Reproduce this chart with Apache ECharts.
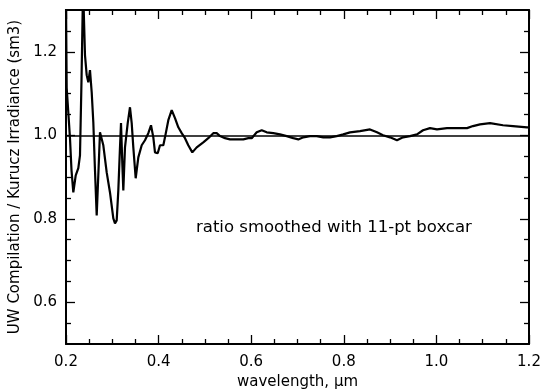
<!DOCTYPE html>
<html>
<head>
<meta charset="utf-8">
<script src="https://cdn.jsdelivr.net/npm/echarts@6/dist/echarts.min.js"></script>
<style>
html,body{margin:0;padding:0;background:#fff;}
#c{width:544px;height:389px;}
</style>
</head>
<body>
<div id="c"></div>
<script>
// wavelength (µm)
var wavelength = [0.200,0.2015,0.2054,0.2086,0.2119,0.2158,0.2210,0.2266,0.2302,0.2335,0.2361,0.2375,0.2410,0.2447,0.2482,0.2518,0.2555,0.2590,0.2626,0.2663,0.2702,0.2734,0.2767,0.2806,0.2879,0.2950,0.3022,0.3058,0.3095,0.3130,0.3166,0.3188,0.3216,0.3238,0.3274,0.3333,0.3382,0.3419,0.3454,0.3505,0.3562,0.3635,0.3706,0.3778,0.3836,0.3886,0.3922,0.3981,0.4030,0.4102,0.4138,0.4210,0.4283,0.4354,0.4426,0.4499,0.4570,0.4641,0.4728,0.4823,0.4965,0.5073,0.5181,0.5255,0.5326,0.5434,0.5542,0.5687,0.5829,0.5937,0.6011,0.6119,0.6227,0.6335,0.6477,0.6622,0.6767,0.6909,0.7017,0.7125,0.7270,0.7415,0.7557,0.7702,0.7847,0.7989,0.8134,0.8350,0.8566,0.8717,0.8847,0.8998,0.9149,0.9279,0.9430,0.9581,0.9711,0.9862,1.0013,1.0229,1.0445,1.0661,1.0790,1.0942,1.1158,1.1438,1.1654,1.1957,1.2000];
// ratio UW compilation / Kurucz
var ratio = [1.32,1.113,1.048,0.993,0.916,0.863,0.904,0.921,0.952,1.132,1.305,1.33,1.192,1.144,1.127,1.156,1.103,1.031,0.916,0.808,0.916,1.007,1.005,0.976,0.911,0.863,0.801,0.789,0.796,0.868,0.971,1.029,0.933,0.868,0.971,1.029,1.067,1.029,0.971,0.897,0.947,0.976,0.988,1.005,1.024,0.995,0.959,0.957,0.976,0.976,0.995,1.036,1.060,1.041,1.019,1.005,0.993,0.976,0.959,0.971,0.983,0.993,1.005,1.005,0.998,0.993,0.990,0.990,0.990,0.993,0.993,1.007,1.012,1.007,1.005,1.002,0.998,0.993,0.990,0.995,0.998,0.998,0.995,0.995,0.998,1.002,1.007,1.010,1.014,1.007,1.000,0.995,0.988,0.995,0.998,1.002,1.012,1.017,1.014,1.017,1.017,1.017,1.022,1.026,1.029,1.024,1.022,1.019,1.019];
var xMajor = [0.2,0.4,0.6,0.8,1.0,1.2];
var xMinor = [0.25,0.3,0.35,0.45,0.5,0.55,0.65,0.7,0.75,0.85,0.9,0.95,1.05,1.1,1.15];
var yMajor = [0.6,0.8,1.0,1.2];
var yMinor = [0.55,0.65,0.7,0.75,0.85,0.9,0.95,1.05,1.1,1.15,1.25];

var FONT = 'DejaVu Sans';
var pts = wavelength.map(function(w,i){return [w, ratio[i]];});

function xAx(pos, vals, len, showLabel, showLine){
  return {type:'value', position:pos, min:0.2, max:1.2, interval:0.05,
    axisLine:{show:showLine, onZero:false, lineStyle:{color:'#000', width:2}},
    axisTick:{show:true, inside:true, length:len, customValues:vals, lineStyle:{color:'#000', width:1.3}},
    axisLabel:{show:showLabel, customValues:xMajor, color:'#000', fontFamily:FONT, fontSize:15, margin:11,
      formatter:function(v){return v.toFixed(1);}},
    splitLine:{show:false}};
}
function yAx(pos, vals, len, showLabel, showLine){
  return {type:'value', position:pos, min:0.5, max:1.3, interval:0.05,
    axisLine:{show:showLine, onZero:false, lineStyle:{color:'#000', width:2}},
    axisTick:{show:true, inside:true, length:len, customValues:vals, lineStyle:{color:'#000', width:1.3}},
    axisLabel:{show:showLabel, customValues:yMajor, color:'#000', fontFamily:FONT, fontSize:15, margin:9,
      formatter:function(v){return v.toFixed(1);}},
    splitLine:{show:false}};
}

var chart = echarts.init(document.getElementById('c'), null, {renderer:'canvas'});
var xa0 = xAx('bottom', xMajor, 9, true, true);
xa0.name = 'wavelength, \u03bcm'; xa0.nameLocation = 'middle'; xa0.nameGap = 29;
xa0.nameTextStyle = {color:'#000', fontFamily:FONT, fontSize:15};
var ya0 = yAx('left', yMajor, 9, true, true);
ya0.name = 'UW Compilation / Kurucz Irradiance (sm3)'; ya0.nameLocation = 'middle'; ya0.nameGap = 39;
ya0.nameTextStyle = {color:'#000', fontFamily:FONT, fontSize:15};

chart.setOption({
  animation:false,
  backgroundColor:'#fff',
  grid:{left:66, right:15, top:10, bottom:45, containLabel:false, outerBoundsMode:'none'},
  xAxis:[xa0, xAx('bottom', xMinor, 5, false, false), xAx('top', xMajor, 9, false, true), xAx('top', xMinor, 5, false, false)],
  yAxis:[ya0, yAx('left', yMinor, 5, false, false), yAx('right', yMajor, 9, false, true), yAx('right', yMinor, 5, false, false)],
  graphic:[{type:'text', left:196, top:219, style:{text:'ratio smoothed with 11-pt boxcar', fill:'#000', font:'16.5px "DejaVu Sans"'}}],
  series:[{
    type:'line', data:pts, xAxisIndex:0, yAxisIndex:0, showSymbol:false, smooth:false, clip:true,
    lineStyle:{color:'#000', width:2.2},
    markLine:{silent:true, symbol:['none','none'], label:{show:false},
      lineStyle:{color:'#000', width:1.5, type:'solid'}, data:[{yAxis:1.0}]}
  }]
});
</script>
</body>
</html>
